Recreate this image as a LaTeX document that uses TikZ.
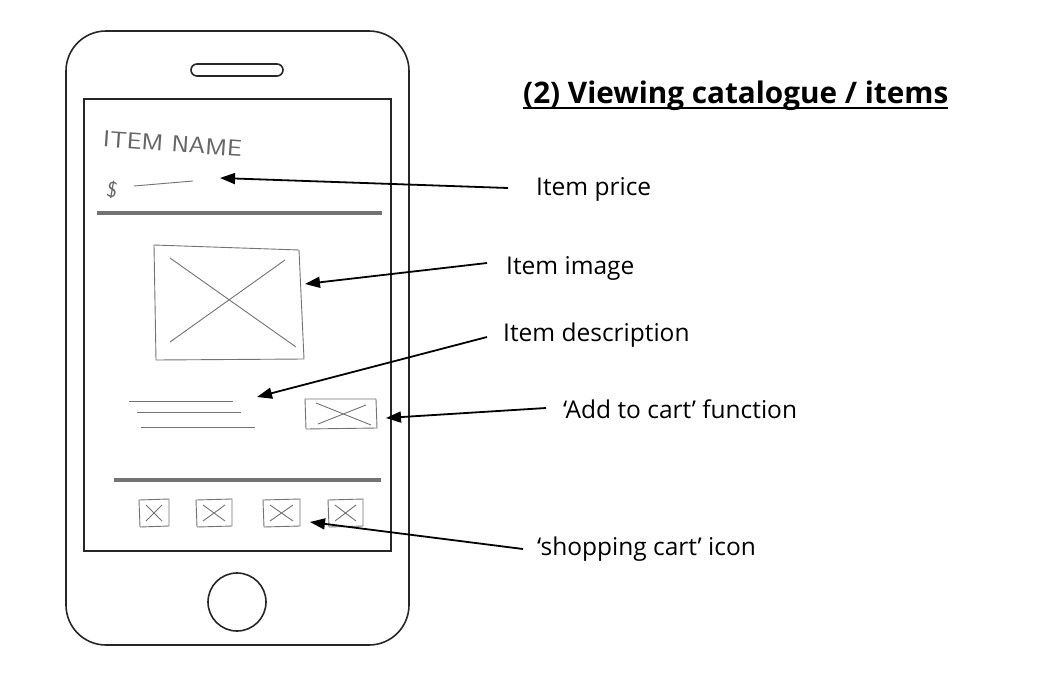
\documentclass[tikz,border=0pt]{standalone}
\usepackage{fontspec}
\setmainfont{Open Sans}
\usetikzlibrary{arrows.meta}
\begin{document}
\begin{tikzpicture}[x=1pt,y=-1pt,
  outline/.style={draw=black!85,line width=1.6pt},
  sketch/.style={draw=black!55,line width=0.9pt,line join=round},
  rule/.style={draw=black!55,line width=3.2pt},
  callout/.style={draw=black,line width=1.8pt,-{Triangle[length=15pt,width=11pt]}},
  lbl/.style={anchor=west,inner sep=0pt,font=\fontsize{24.5}{27}\selectfont},
  hand/.style={text=black!60,inner sep=0pt,font=\sffamily\fontsize{20}{22}\selectfont}]
\useasboundingbox (0,0) rectangle (1060,699);
\fill[white] (0,0) rectangle (1060,699);

% phone body
\draw[outline,rounded corners=40pt] (66,31) rectangle (409,645);
\draw[outline,rounded corners=6pt] (191,64) rectangle (283,76);
\draw[outline] (84,99) rectangle (391,551);
\draw[outline] (237,602) circle (29);

% header: name and price
\node[hand,anchor=west,rotate=-4,xscale=1.32,yscale=1.15] (name) at (103,139) {ITEM NAME};
\node[hand,anchor=west,rotate=-10,font=\sffamily\fontsize{22}{24}\selectfont] (dollar) at (107,189) {\$};
\draw[sketch] (134,186) -- (193,181);
\draw[rule] (97,213) -- (382,213);

% main image placeholder
\draw[sketch] (154,245) -- (299,250) -- (304,359) -- (156,360) -- cycle;
\draw[sketch] (170,258) -- (296,347);
\draw[sketch] (285,260) -- (170,342);

% description lines
\draw[sketch] (129,401) -- (233,401);
\draw[sketch] (137,412) -- (241,412);
\draw[sketch] (141,427) -- (255,427);

% add to cart button
\draw[sketch] (305,399) -- (376,399) -- (377,428) -- (306,429) -- cycle;
\draw[sketch] (316,403) -- (371,425);
\draw[sketch] (366,405) -- (318,424);

% lower separator
\draw[rule] (114,480) -- (381,480);

% bottom icon bar
\foreach \xa/\xb in {139/169,196/232,263/300,328/363}{
  \draw[sketch] (\xa,500) -- (\xb,499) -- (\xb,526) -- (\xa+1,527) -- cycle;
  \draw[sketch] (\xa+7,505) -- (\xb-7,521);
  \draw[sketch] (\xb-7,505) -- (\xa+7,521);
}

% title
\node[anchor=west,inner sep=0pt,font=\bfseries\fontsize{29.7}{32}\selectfont] (title) at (523,96) {(2) Viewing catalogue / items};
\draw[line width=1.6pt] (title.south west) ++(0,-3) coordinate (ul1) -- (ul1 -| title.south east);

% labels
\node[lbl] (price)   at (536,189) {Item price};
\node[lbl] (image)   at (506,268) {Item image};
\node[lbl] (descr)   at (503,335) {Item description};
\node[lbl] (addcart) at (563,409) {‘Add to cart’ function};
\node[lbl] (cart)    at (537,549) {‘shopping cart’ icon};

% callout end points
\coordinate (priceT) at (508,188);  \coordinate (priceH) at (220,178);
\coordinate (imageT) at (487,263);  \coordinate (imageH) at (305,284);
\coordinate (descrT) at (487,337);  \coordinate (descrH) at (257,397);
\coordinate (addT)   at (546,408);  \coordinate (addH)   at (386,418);
\coordinate (cartT)  at (523,549);  \coordinate (cartH)  at (310,522);

\draw[callout] (priceT) -- (priceH);
\draw[callout] (imageT) -- (imageH);
\draw[callout] (descrT) -- (descrH);
\draw[callout] (addT) -- (addH);
\draw[callout] (cartT) -- (cartH);
\end{tikzpicture}
\end{document}
